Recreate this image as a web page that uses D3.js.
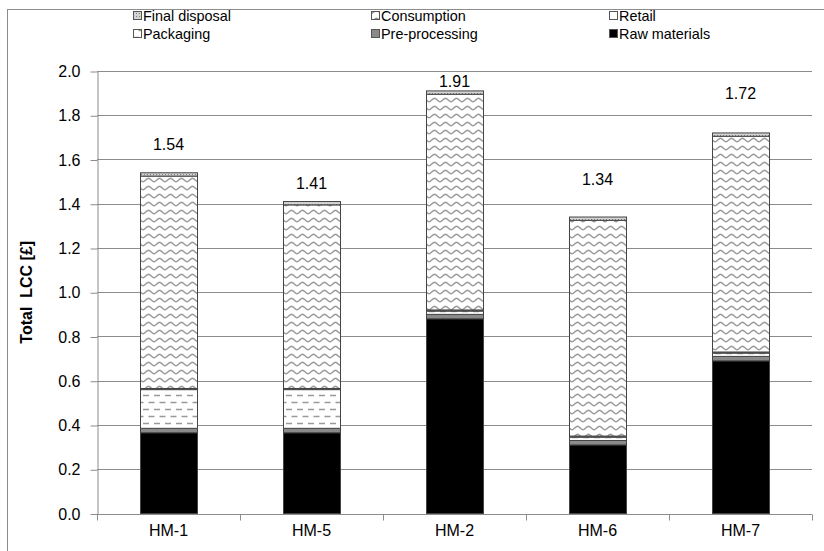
<!DOCTYPE html>
<html>
<head>
<meta charset="utf-8">
<script src="https://cdn.jsdelivr.net/npm/d3@7"></script>
<style>
  body { margin: 0; background: #fff; }
  text { font-family: 'Liberation Sans', Arial, sans-serif; }
</style>
</head>
<body>
<div id="app"></div>
<script>
'use strict'

// data
const products = ['HM-1', 'HM-5', 'HM-2', 'HM-6', 'HM-7']
const stages = ['Raw materials', 'Pre-processing', 'Packaging', 'Retail', 'Consumption', 'Final disposal']
const rawMaterials = [0.365, 0.365, 0.88, 0.31, 0.69]
const preProcessing = [0.02, 0.02, 0.02, 0.02, 0.02]
const packaging = [0.175, 0.175, 0.015, 0.015, 0.015]
const retail = [0.005, 0.005, 0.005, 0.005, 0.005]
const consumption = [0.96, 0.83, 0.975, 0.975, 0.975]
const finalDisposal = [0.015, 0.015, 0.015, 0.015, 0.015]
const totals = [1.54, 1.41, 1.91, 1.34, 1.72]
// where the total labels sit, in LCC units
const labelAt = [1.67, 1.49, 1.955, 1.51, 1.90]
const yTicks = [0, 0.2, 0.4, 0.6, 0.8, 1.0, 1.2, 1.4, 1.6, 1.8, 2.0]
const legendOrder = ['Final disposal', 'Consumption', 'Retail', 'Packaging', 'Pre-processing', 'Raw materials']

const series = [rawMaterials, preProcessing, packaging, retail, consumption, finalDisposal]
const table = products.map((p, i) => {
  const row = { product: p }
  stages.forEach((s, j) => { row[s] = series[j][i] })
  return row
})

const width = 824
const height = 551
const margin = { top: 71, right: 12, bottom: 37, left: 97 }

const svg = d3.select('#app').append('svg')
  .attr('width', width)
  .attr('height', height)

// fill patterns
const defs = svg.append('defs')

const wave = defs.append('pattern')
  .attr('id', 'wave')
  .attr('patternUnits', 'userSpaceOnUse')
  .attr('width', 11).attr('height', 8)
wave.append('rect').attr('width', 11).attr('height', 8).attr('fill', '#fff')
wave.append('path')
  .attr('d', 'M0,5.8 C1.8,5.8 3.7,2.2 5.5,2.2 C7.3,2.2 9.2,5.8 11,5.8')
  .attr('fill', 'none').attr('stroke', '#9a9a9a').attr('stroke-width', 1.5)

const dash = defs.append('pattern')
  .attr('id', 'dash')
  .attr('patternUnits', 'userSpaceOnUse')
  .attr('width', 11).attr('height', 14)
dash.append('rect').attr('width', 11).attr('height', 14).attr('fill', '#fff')
dash.append('path')
  .attr('d', 'M0,3.5h6M5.5,10.5h6M-5.5,10.5h6')
  .attr('stroke', '#9a9a9a').attr('stroke-width', 1.5)

const dots = defs.append('pattern')
  .attr('id', 'dots')
  .attr('patternUnits', 'userSpaceOnUse')
  .attr('width', 3).attr('height', 3)
dots.append('rect').attr('width', 3).attr('height', 3).attr('fill', '#d4d4d4')
dots.append('rect').attr('width', 1).attr('height', 1).attr('fill', '#808080')

const fills = {
  'Raw materials': '#000',
  'Pre-processing': '#8a8a8a',
  'Packaging': 'url(#dash)',
  'Retail': '#fff',
  'Consumption': 'url(#wave)',
  'Final disposal': 'url(#dots)'
}

// chart area border
svg.append('rect')
  .attr('x', 7.5).attr('y', 9.5)
  .attr('width', 840).attr('height', 560)
  .attr('fill', 'none').attr('stroke', '#8c8c8c')

const x = d3.scaleBand()
  .domain(products)
  .range([margin.left, width - margin.right])
  .paddingInner(0.6)
  .paddingOuter(0.3)

const y = d3.scaleLinear()
  .domain([0, 2])
  .range([height - margin.bottom - 0.5, margin.top])

// gridlines
svg.append('g')
  .selectAll('line')
  .data(yTicks)
  .enter().append('line')
  .attr('x1', margin.left)
  .attr('x2', width - margin.right)
  .attr('y1', d => Math.round(y(d)) + 0.5)
  .attr('y2', d => Math.round(y(d)) + 0.5)
  .attr('stroke', '#8c8c8c')

// y axis
const yAxis = svg.append('g')
  .attr('transform', `translate(${margin.left + 0.5},0.5)`)
  .call(d3.axisLeft(y).tickValues(yTicks).tickFormat(d3.format('.1f')).tickSize(7).tickSizeOuter(0))
yAxis.select('.domain').attr('stroke', '#8c8c8c')
yAxis.selectAll('.tick line').attr('stroke', '#8c8c8c')
yAxis.selectAll('.tick text')
  .attr('x', -17)
  .style('font-size', '16px')
  .attr('fill', '#000')
  .attr('font-family', 'Liberation Sans, Arial, sans-serif')

// x axis, ticks sit between categories
const xAxis = svg.append('g')
  .attr('transform', `translate(0,${Math.round(y(0)) + 0.5})`)
xAxis.append('line')
  .attr('x1', margin.left).attr('x2', width - margin.right)
  .attr('stroke', '#8c8c8c')
const bounds = products.map(p => x(p) - x.step() * x.paddingInner() / 2)
  .concat([width - margin.right])
xAxis.selectAll('.sep')
  .data(bounds)
  .enter().append('line')
  .attr('class', 'sep')
  .attr('x1', d => Math.round(d) + 0.5).attr('x2', d => Math.round(d) + 0.5)
  .attr('y1', 0).attr('y2', 6)
  .attr('stroke', '#8c8c8c')
xAxis.selectAll('text')
  .data(products)
  .enter().append('text')
  .attr('x', d => x(d) + x.bandwidth() / 2)
  .attr('y', 21)
  .attr('text-anchor', 'middle')
  .style('font-size', '16px')
  .text(d => d)

// stacked bars
const stacked = d3.stack().keys(stages)(table)

svg.append('g')
  .selectAll('g')
  .data(stacked)
  .enter().append('g')
  .attr('fill', d => fills[d.key])
  .selectAll('rect')
  .data(d => d)
  .enter().append('rect')
  .attr('x', d => Math.round(x(d.data.product)) + 0.5)
  .attr('width', Math.round(x.bandwidth()))
  .attr('y', d => y(d[1]))
  .attr('height', d => Math.max(0, y(d[0]) - y(d[1])))
  .attr('stroke', '#444')
  .attr('stroke-width', 1)

// total labels
svg.append('g')
  .selectAll('text')
  .data(products)
  .enter().append('text')
  .attr('x', d => x(d) + x.bandwidth() / 2)
  .attr('y', (d, i) => y(labelAt[i]))
  .attr('dy', '0.35em')
  .attr('text-anchor', 'middle')
  .style('font-size', '16px')
  .text((d, i) => totals[i].toFixed(2))

// y axis title
svg.append('text')
  .attr('transform', `translate(26,${(y(0) + y(2)) / 2}) rotate(-90)`)
  .attr('dy', '0.35em')
  .attr('text-anchor', 'middle')
  .style('font-size', '16px')
  .style('font-weight', 'bold')
  .attr('xml:space', 'preserve')
  .text('Total  LCC [£]')

// legend, three columns by two rows
const legendX = [133, 371, 609]
const legendY = [16, 34]
const legend = svg.append('g')
  .selectAll('g')
  .data(legendOrder)
  .enter().append('g')
  .attr('transform', (d, i) => `translate(${legendX[i % 3]},${legendY[Math.floor(i / 3)]})`)
legend.append('rect')
  .attr('x', 0.5).attr('y', -4.5)
  .attr('width', 8).attr('height', 8)
  .attr('fill', d => fills[d])
  .attr('stroke', '#555')
legend.append('text')
  .attr('transform', 'translate(10,0) scale(0.96,1)')
  .attr('dy', '0.36em')
  .style('font-size', '15px')
  .text(d => d)
</script>
</body>
</html>
